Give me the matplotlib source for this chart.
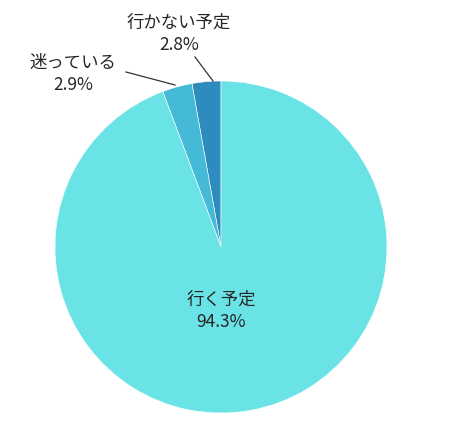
import matplotlib
matplotlib.use("Agg")
import matplotlib.pyplot as plt

plt.rcParams['font.family'] = ['Noto Sans CJK JP', 'DejaVu Sans']

# Data
labels = ["行かない予定", "迷っている", "行く予定"]
values = [2.8, 2.9, 94.3]
colors = ["#2e8bbd", "#44bad7", "#6ae3e6"]

W, H = 450, 422
cx, cy, r = 221, 247, 166

fig = plt.figure(figsize=(W / 100, H / 100), dpi=100)
ax = fig.add_axes([(cx - r) / W, (H - cy - r) / H, 2 * r / W, 2 * r / H])

ax.pie(values, colors=colors, startangle=90, counterclock=True,
       wedgeprops=dict(edgecolor="white", linewidth=0.4), radius=1.0)
ax.set_xlim(-1, 1)
ax.set_ylim(-1, 1)
ax.set_aspect("equal")
ax.axis("off")


def px(x, y):
    # pixel position -> data coordinates of the pie axes
    return (x - cx) / r, (cy - y) / r


txt = dict(ha="center", va="center", fontsize=12.5, color="#262626")

# Center label
ax.text(*px(221, 311), f"{labels[2]}\n{values[2]}%", linespacing=1.35, clip_on=False, **txt)

# Outside labels with leader lines
ax.text(*px(179, 34), f"{labels[0]}\n{values[0]}%", linespacing=1.35, clip_on=False, **txt)
ax.text(*px(73, 74), f"{labels[1]}\n{values[1]}%", linespacing=1.35, clip_on=False, **txt)

for (x0, y0), (x1, y1) in [((195, 57), (213, 81)), ((126, 72), (175, 85))]:
    a, b = px(x0, y0)
    c, d = px(x1, y1)
    ax.plot([a, c], [b, d], color="#333333", linewidth=0.9, clip_on=False)

fig.savefig("out.png", dpi=100, facecolor="white")
